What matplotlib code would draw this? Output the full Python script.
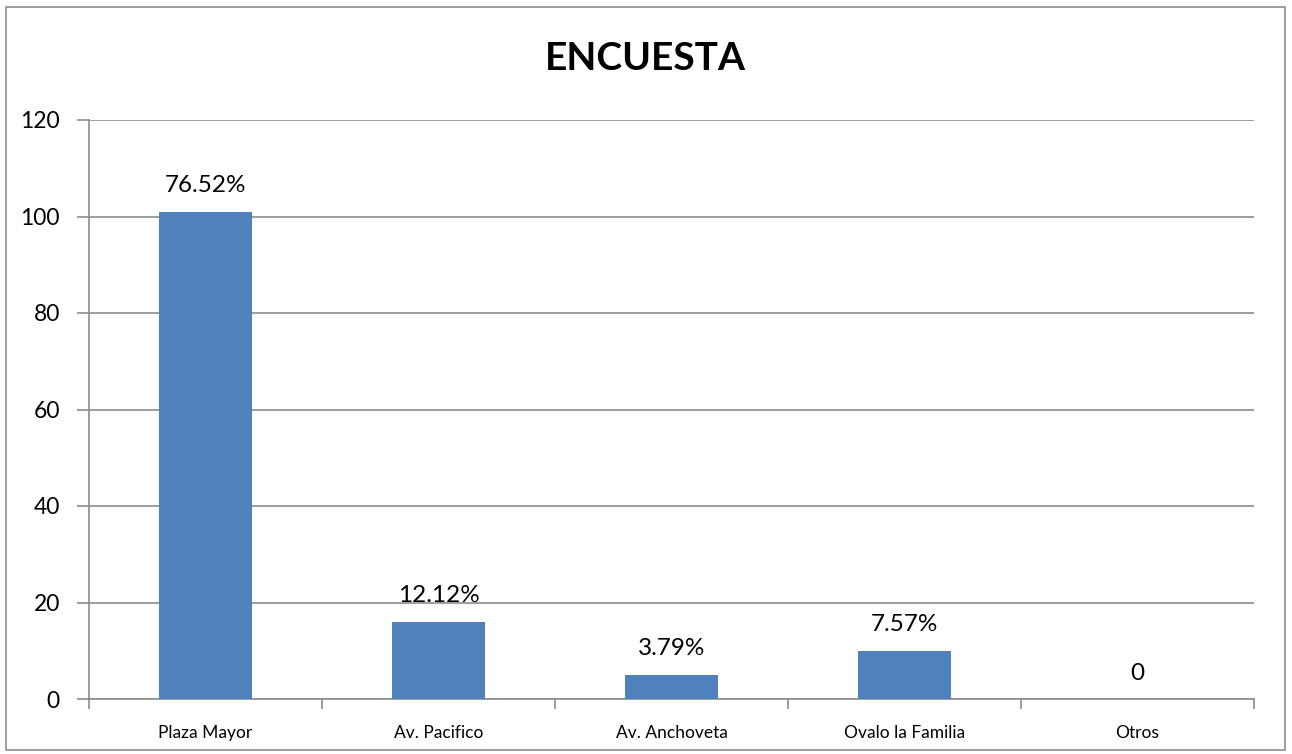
import matplotlib.pyplot as plt
from matplotlib.patches import Rectangle

# Datos de la encuesta
categorias = ["Plaza Mayor", "Av. Pacifico", "Av. Anchoveta", "Ovalo la Familia", "Otros"]
valores = [101, 16, 5, 10, 0]
etiquetas = ["76.52%", "12.12%", "3.79%", "7.57%", "0"]
yticks = [0, 20, 40, 60, 80, 100, 120]

plt.rcParams['font.family'] = ['Lato', 'DejaVu Sans']

fig = plt.figure(figsize=(12.92, 7.54), dpi=100)
ax = fig.add_axes([89/1292, 1 - 699/754, (1254-89)/1292, (699-120)/754])

x = list(range(len(categorias)))
ax.bar(x, valores, width=0.40, color="#4F81BD", zorder=3)

# etiquetas encima de cada barra
for xi, v, t in zip(x, valores, etiquetas):
    ax.text(xi, v + 3.2, t, ha="center", va="bottom", fontsize=17.5, zorder=4)

ax.set_xlim(-0.5, len(categorias) - 0.5)
ax.set_ylim(0, 120)
ax.set_yticks(yticks)
ax.set_yticklabels([str(t) for t in yticks], fontsize=16.5)
ax.yaxis.grid(True, color="#8c8c8c", linewidth=1.2, zorder=0)

# ticks del eje x entre categorias
ax.set_xticks([i - 0.5 for i in range(len(categorias) + 1)], minor=False)
ax.set_xticklabels([""] * (len(categorias) + 1))
ax.set_xticks(x, minor=True)
ax.set_xticklabels(categorias, minor=True, fontsize=12.5)
ax.tick_params(axis="x", which="minor", length=0, pad=19)
ax.tick_params(axis="x", which="major", length=7, color="#8c8c8c", width=1.2)
ax.tick_params(axis="y", length=9, color="#8c8c8c", width=1.2, pad=12)

for s in ["top", "right"]:
    ax.spines[s].set_visible(False)
for s in ["left", "bottom"]:
    ax.spines[s].set_color("#8c8c8c")
    ax.spines[s].set_linewidth(1.2)

fig.text(645/1292, 1 - 58/754, "ENCUESTA", ha="center", va="center",
         fontsize=28, fontweight="bold")

# borde exterior del grafico
fig.patches.append(Rectangle((6/1292, 4/754), 1279/1292, 743/754, transform=fig.transFigure,
                             fill=False, edgecolor="#8c8c8c", linewidth=1.2))

plt.savefig("out.png")
